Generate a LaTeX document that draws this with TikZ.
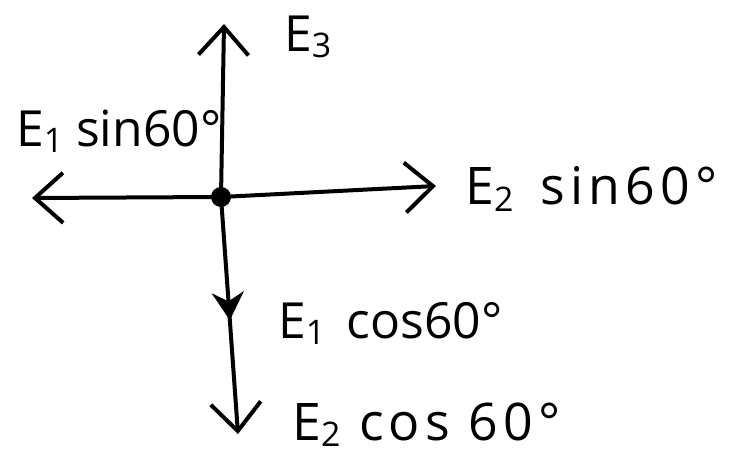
\documentclass[tikz,border=0pt]{standalone}
\usepackage{fontspec}
\setmainfont{Open Sans}
\usetikzlibrary{arrows.meta,decorations.markings}
\newcommand{\lowsub}[1]{\raisebox{-0.12em}{\fontsize{34}{40}\selectfont #1}}
\begin{document}
\begin{tikzpicture}[x=1bp,y=-1bp,
  vec/.style={line width=4bp,-{Straight Barb[length=28bp,width=50bp,line width=4bp]}},
  lab/.style={anchor=base west,inner sep=0pt,font=\fontsize{50}{60}\selectfont},
  wide/.style={font=\fontsize{52}{60}\selectfont\addfontfeature{LetterSpace=10}},
  midarrow/.style={postaction={decorate,decoration={markings,
     mark=at position 0.52 with {\arrow{Stealth[length=28bp,width=32bp]}}}}}]
\useasboundingbox[fill=white] (0,0) rectangle (751,460);
\coordinate (O) at (221,197);
\coordinate (N) at (224,24);
\coordinate (W) at (32,198);
\coordinate (Ea) at (436,186);
\coordinate (S) at (238,434);
\draw[vec] (O) -- (N);
\draw[vec] (O) -- (W);
\draw[vec] (O) -- (Ea);
\draw[vec,midarrow] (O) -- (S);
\fill (O) circle (10bp);
\node[lab] (l3) at (284,52) {E\lowsub{3}};
\node[lab] (l1s) at (16,147) {E\lowsub{1} sin60°};
\node[lab,wide] (l2s) at (465,205) {E\lowsub{2} \,sin60°};
\node[lab] (l1c) at (278,339) {E\lowsub{1} \,cos60°};
\node[lab,wide] (l2c) at (292,440) {E\lowsub{2} cos 60°};
\end{tikzpicture}
\end{document}
